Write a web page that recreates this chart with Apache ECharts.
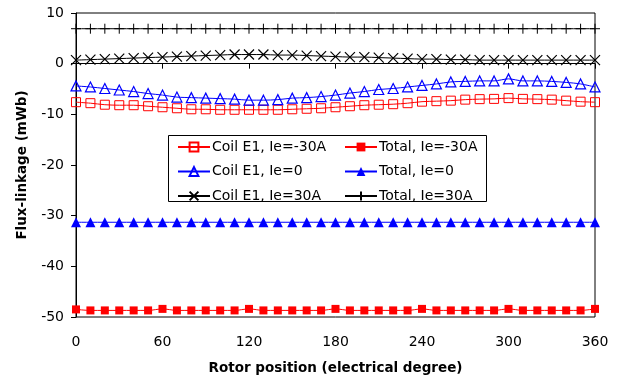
<!DOCTYPE html>
<html>
<head>
<meta charset="utf-8">
<script src="https://cdn.jsdelivr.net/npm/echarts@6/dist/echarts.min.js"></script>
<style>
html,body{margin:0;padding:0;background:#fff;}
#chart{width:624px;height:381px;}
</style>
</head>
<body>
<div id="chart"></div>
<script>
const degrees = [0,10,20,30,40,50,60,70,80,90,100,110,120,130,140,150,160,170,180,190,200,210,220,230,240,250,260,270,280,290,300,310,320,330,340,350,360];
const coilNeg30 = [-7.6,-7.8,-8.1,-8.2,-8.2,-8.4,-8.6,-8.8,-9.0,-9.0,-9.1,-9.1,-9.1,-9.1,-9.1,-9.0,-8.9,-8.8,-8.6,-8.4,-8.2,-8.1,-8.0,-7.8,-7.5,-7.4,-7.3,-7.1,-7.0,-6.95,-6.8,-6.95,-7.0,-7.1,-7.3,-7.5,-7.6];
const totalNeg30 = [-48.5,-48.7,-48.7,-48.7,-48.7,-48.7,-48.4,-48.7,-48.7,-48.7,-48.7,-48.7,-48.4,-48.7,-48.7,-48.7,-48.7,-48.7,-48.4,-48.7,-48.7,-48.7,-48.7,-48.7,-48.4,-48.7,-48.7,-48.7,-48.7,-48.7,-48.4,-48.7,-48.7,-48.7,-48.7,-48.7,-48.4];
const coil0 = [-4.4,-4.6,-4.9,-5.2,-5.5,-5.9,-6.2,-6.6,-6.7,-6.8,-6.9,-7.0,-7.2,-7.2,-7.1,-6.8,-6.7,-6.5,-6.2,-5.8,-5.5,-5.1,-4.9,-4.6,-4.3,-4.0,-3.6,-3.5,-3.4,-3.4,-3.0,-3.4,-3.4,-3.5,-3.7,-4.0,-4.6];
const total0 = [-31.3,-31.3,-31.3,-31.3,-31.3,-31.3,-31.3,-31.3,-31.3,-31.3,-31.3,-31.3,-31.3,-31.3,-31.3,-31.3,-31.3,-31.3,-31.3,-31.3,-31.3,-31.3,-31.3,-31.3,-31.3,-31.3,-31.3,-31.3,-31.3,-31.3,-31.3,-31.3,-31.3,-31.3,-31.3,-31.3,-31.3];
const coilPos30 = [0.7,0.8,0.9,1.0,1.1,1.2,1.3,1.4,1.5,1.6,1.7,1.8,1.8,1.8,1.7,1.7,1.6,1.5,1.4,1.3,1.3,1.2,1.1,1.0,0.9,0.9,0.8,0.8,0.7,0.7,0.7,0.7,0.7,0.7,0.7,0.7,0.7];
const totalPos30 = [6.9,6.9,6.9,6.9,6.9,6.9,6.9,6.9,6.9,6.9,6.9,6.9,6.9,6.9,6.9,6.9,6.9,6.9,6.9,6.9,6.9,6.9,6.9,6.9,6.9,6.9,6.9,6.9,6.9,6.9,6.9,6.9,6.9,6.9,6.9,6.9,6.9];
const seriesNames = ['Coil E1, Ie=-30A','Total, Ie=-30A','Coil E1, Ie=0','Total, Ie=0','Coil E1, Ie=30A','Total, Ie=30A'];
const xTicks = {min:0, max:360, interval:60};
const yTicks = {min:-50, max:10, interval:10};

function pairs(vals){ return degrees.map((d,i)=>[d, vals[i]]); }

const FONT = 'DejaVu Sans, Liberation Sans, Arial, sans-serif';
const crossPath = 'path://M0,0L10,10M10,0L0,10';
const plusPath = 'path://M5,0L5,10M0,5L10,5';

function mk(name, vals, color, symbol, size, fill, bw){
  return {
    name: name, type: 'line', data: pairs(vals), smooth: 0.3,
    symbol: symbol, symbolSize: size, showAllSymbol: true,
    lineStyle: {color: color, width: 1},
    itemStyle: {color: fill, borderColor: color, borderWidth: bw},
    emphasis: {disabled: true}, animation: false, z: 3
  };
}

const chart = echarts.init(document.getElementById('chart'), null, {renderer: 'canvas'});
const legendCommon = {
  orient: 'vertical', itemWidth: 32, itemHeight: 11, itemGap: 10.5,
  textStyle: {fontFamily: FONT, fontSize: 14, color: '#000', padding: [0,0,0,-3]},
  padding: 0, selectedMode: false
};
chart.setOption({
  backgroundColor: '#fff',
  animation: false,
  grid: {left: 76, right: 29, top: 13, bottom: 64, show: true, borderColor: '#000', borderWidth: 1, backgroundColor: 'transparent'},
  graphic: [{type: 'rect', left: 168, top: 135, shape: {width: 318, height: 66}, style: {fill: '#fff', stroke: '#000', lineWidth: 1}, z: 10}],
  legend: [
    Object.assign({}, legendCommon, {left: 177, top: 140, data: [seriesNames[0], seriesNames[2], seriesNames[4]], z: 20}),
    Object.assign({}, legendCommon, {left: 344, top: 140, data: [seriesNames[1], seriesNames[3], seriesNames[5]], z: 20})
  ],
  xAxis: {
    type: 'value', min: xTicks.min, max: xTicks.max, interval: xTicks.interval,
    name: 'Rotor position (electrical degree)', nameLocation: 'middle', nameGap: 44,
    nameTextStyle: {fontFamily: FONT, fontSize: 13.5, fontWeight: 'bold', color: '#000'},
    axisLine: {show: true, lineStyle: {color: '#000', width: 1}},
    axisTick: {show: true, inside: false, length: 5, lineStyle: {color: '#000'}},
    axisLabel: {fontFamily: FONT, fontSize: 14, color: '#000', margin: 18},
    splitLine: {show: false}
  },
  yAxis: {
    type: 'value', min: yTicks.min, max: yTicks.max, interval: yTicks.interval,
    name: 'Flux-linkage (mWb)', nameLocation: 'middle', nameGap: 47,
    nameTextStyle: {fontFamily: FONT, fontSize: 13.5, fontWeight: 'bold', color: '#000'},
    axisLine: {show: true, lineStyle: {color: '#000', width: 1}},
    axisTick: {show: true, inside: false, length: 5, lineStyle: {color: '#000'}},
    axisLabel: {fontFamily: FONT, fontSize: 14, color: '#000', margin: 12},
    splitLine: {show: false}
  },
  series: [
    mk(seriesNames[0], coilNeg30, '#ff0000', 'rect', 9, 'rgba(0,0,0,0)', 1),
    mk(seriesNames[1], totalNeg30, '#ff0000', 'rect', 8, '#ff0000', 0),
    mk(seriesNames[2], coil0, '#0000ff', 'triangle', 10, 'rgba(0,0,0,0)', 1.2),
    mk(seriesNames[3], total0, '#0000ff', 'triangle', 10, '#0000ff', 0),
    mk(seriesNames[4], coilPos30, '#000000', crossPath, 10, 'rgba(0,0,0,0)', 1.2),
    mk(seriesNames[5], totalPos30, '#000000', plusPath, 10, 'rgba(0,0,0,0)', 1)
  ]
});
</script>
</body>
</html>
